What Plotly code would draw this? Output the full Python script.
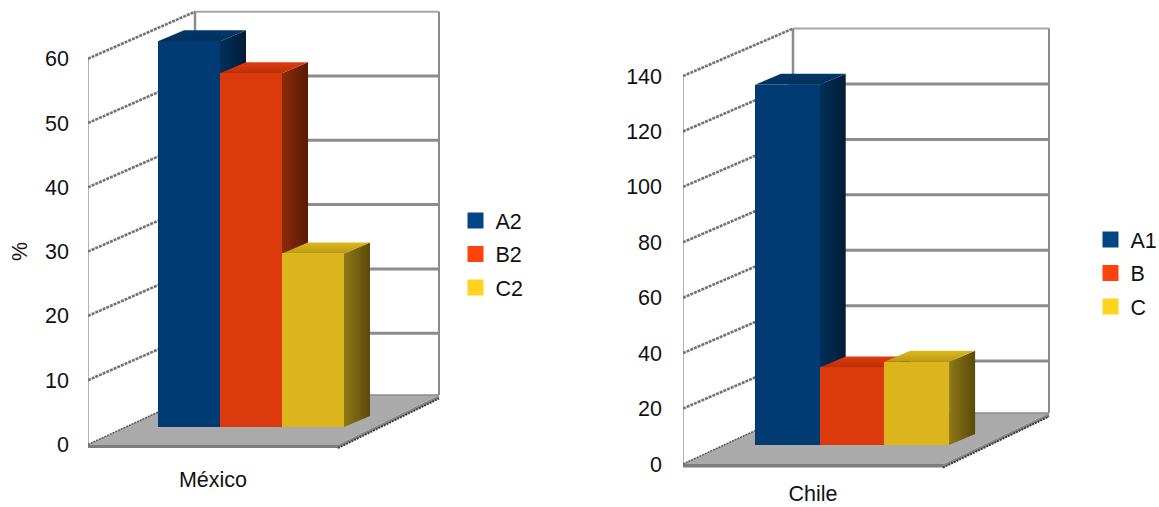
import plotly.graph_objects as go

# Series values per panel
mexico_category = "México"
mexico_series = ["A2", "B2", "C2"]
mexico_values = [60, 55, 27]
mexico_ticks = [0, 10, 20, 30, 40, 50, 60]

chile_category = "Chile"
chile_series = ["A1", "B", "C"]
chile_values = [130, 28, 30]
chile_ticks = [0, 20, 40, 60, 80, 100, 120, 140]

# Colours: key swatch, front face, side gradient, top gradient
key_colors = ["#004586", "#ff420e", "#ffd320"]
front_colors = ["#003c73", "#dc3a0c", "#dcb41c"]
side_colors = [("#02305a", "#011c36"), ("#8a2c0a", "#5a1a04"), ("#8f7818", "#5a4a0a")]
top_colors = [("#00386b", "#00305c"), ("#e23c0c", "#b83008"), ("#e0b81c", "#b89a14")]

W, H = 1159, 507
FONT = "Liberation Sans"
TEXT = "#111111"
GRID = "#8c8c8c"
FONT_SIZE = 21.5


def add_panel(fig, n, cat, names, values, ticks, px, legend_pos, title=None):
    """Draws one oblique bar panel on a base axis pair and an overlay pair."""
    x0, x1, unit_x = px["left"], px["right"], px["front_w"]
    y_zero, unit_y = px["zero"], px["unit"]
    top_px, bot_px = px["top"], px["bottom"]
    depth_x, depth_y = px["depth_x"] / unit_x, px["depth_y"] / unit_y
    back_right = depth_x + px["back_w"] / unit_x
    floor_y = px["floor_dy"] / unit_y

    xr = [0, (x1 - x0) / unit_x]
    yr = [(y_zero - bot_px) / unit_y, (y_zero - top_px) / unit_y]
    dom_x = [x0 / W, x1 / W]
    dom_y = [1 - bot_px / H, 1 - top_px / H]
    base_x, base_y = f"x{n}", f"y{n}"
    over_x, over_y = f"x{n + 1}", f"y{n + 1}"

    def poly(xs, ys, **kw):
        fig.add_trace(go.Scatter(x=xs, y=ys, xaxis=base_x, yaxis=base_y, hoverinfo="skip",
                                 showlegend=False, **kw))

    def line(xs, ys, color=GRID, width=1.5, dash="solid"):
        poly(xs, ys, mode="lines", line=dict(color=color, width=width, dash=dash))

    top, bottom = ticks[-1], ticks[0]

    # Back wall gridlines and frame
    for t in ticks[1:-1]:
        line([depth_x, back_right], [t + depth_y, t + depth_y], width=3)
    line([depth_x, back_right], [top + depth_y, top + depth_y], color="#a6a6a6", width=2)
    line([depth_x, depth_x], [floor_y, top + depth_y], width=2.5)
    line([back_right, back_right], [floor_y, top + depth_y], color="#8c8c8c", width=2)

    # Side wall: front edge and receding tick lines
    line([0, 0], [bottom, top], color="#9a9a9a", width=1.5)
    for t in ticks[1:]:
        line([0, depth_x], [t, t + depth_y], color="#737373", width=2.6, dash="3px,1px")

    # Floor with a thin slab along its front and right edges
    slab = 3.5 / unit_y
    poly([1, back_right, back_right, 1, 1], [0, floor_y, floor_y - slab, -slab, 0], mode="lines",
         fill="toself", fillcolor="#8a8a8a", line=dict(width=0))
    poly([0, 1, back_right, depth_x, 0], [0, 0, floor_y, floor_y, 0], mode="lines",
         fill="toself", fillcolor="#aaaaaa", line=dict(width=0))
    poly([0, 1, 1, 0, 0], [0, 0, -slab, -slab, 0], mode="lines", fill="toself",
         fillcolor="#7d7d7d", line=dict(width=0))
    line([depth_x, back_right], [floor_y, floor_y], color="#8c8c8c", width=1.5)
    line([0, depth_x], [0, floor_y], color="#555555", width=1.5, dash="2px,1px")
    line([1, back_right], [-slab, floor_y - slab], color="#3c3c3c", width=2, dash="2px,1px")

    # Bars sit part-way into the floor depth
    bar_w = px["bar_w"] / unit_x
    bar_start = (px["bar_left"] - x0) / unit_x
    bar_base = (y_zero - px["bar_base"]) / unit_y
    bdx, bdy = px["bar_dx"] / unit_x, px["bar_dy"] / unit_y

    for i, v in enumerate(values):
        xl, xh = bar_start + i * bar_w, bar_start + (i + 1) * bar_w
        yt = bar_base + v
        poly([xh, xh + bdx, xh + bdx, xh, xh], [bar_base, bar_base + bdy, yt + bdy, yt, bar_base],
             mode="lines", line=dict(width=0), fill="toself",
             fillgradient=dict(type="horizontal",
                               colorscale=[[0, side_colors[i][0]], [1, side_colors[i][1]]]))
        poly([xl, xh, xh + bdx, xl + bdx, xl], [yt, yt, yt + bdy, yt + bdy, yt],
             mode="lines", line=dict(width=0), fill="toself",
             fillgradient=dict(type="vertical",
                               colorscale=[[0, top_colors[i][1]], [1, top_colors[i][0]]]))

    # Front faces go on the overlay axes so they cover the side faces of neighbours
    for i, v in enumerate(values):
        fig.add_trace(go.Bar(x=[bar_start + (i + 0.5) * bar_w], y=[v], base=[bar_base], width=[bar_w],
                             xaxis=over_x, yaxis=over_y, name=names[i], showlegend=False,
                             marker=dict(color=front_colors[i], line=dict(width=0))))

    # Key entries
    legend_id = "legend" if n == 1 else "legend2"
    for i, name in enumerate(names):
        fig.add_trace(go.Scatter(x=[None], y=[None], xaxis=base_x, yaxis=base_y, mode="markers",
                                 name=name, legend=legend_id, legendgroup=f"{n}{name}",
                                 marker=dict(symbol="square", size=16, color=key_colors[i],
                                             line=dict(width=0))))

    suffix = "" if n == 1 else str(n)
    over_suffix = str(n + 1)
    fig.update_layout({
        f"xaxis{suffix}": dict(domain=dom_x, range=xr, anchor=base_y, tickmode="array", tickvals=[0.5],
                               ticktext=[cat], showgrid=False, zeroline=False, showline=False,
                               ticks="", ticklabelstandoff=px["cat_gap"],
                               tickfont=dict(family=FONT, size=FONT_SIZE, color=TEXT)),
        f"yaxis{suffix}": dict(domain=dom_y, range=yr, anchor=base_x, tickmode="array", tickvals=ticks,
                               showgrid=False, zeroline=False, showline=False, ticks="",
                               ticklabelstandoff=px["tick_gap"],
                               tickfont=dict(family=FONT, size=FONT_SIZE, color=TEXT)),
        f"xaxis{over_suffix}": dict(domain=dom_x, range=xr, overlaying=base_x, anchor=over_y, visible=False),
        f"yaxis{over_suffix}": dict(domain=dom_y, range=yr, overlaying=base_y, anchor=over_x, visible=False),
        legend_id: dict(x=legend_pos[0] / W, y=1 - legend_pos[1] / H, xanchor="left", yanchor="top",
                        font=dict(family=FONT, size=FONT_SIZE, color=TEXT), tracegroupgap=2.5,
                        itemsizing="trace", indentation=-10, bgcolor="rgba(0,0,0,0)"),
    })


fig = go.Figure()

add_panel(fig, 1, mexico_category, mexico_series, mexico_values, mexico_ticks,
          dict(left=88, right=460, front_w=250, zero=444.5, unit=6.43, top=5, bottom=452,
               depth_x=107, depth_y=47, back_w=244, floor_dy=49.5,
               bar_left=158, bar_w=62, bar_base=427, bar_dx=26, bar_dy=11,
               cat_gap=12, tick_gap=18),
          (465.5, 200))

add_panel(fig, 3, chile_category, chile_series, chile_values, chile_ticks,
          dict(left=683, right=1060, front_w=260, zero=464, unit=2.771, top=5, bottom=470,
               depth_x=110, depth_y=47.5, back_w=256, floor_dy=51,
               bar_left=755, bar_w=64.7, bar_base=445, bar_dx=26, bar_dy=11,
               cat_gap=8, tick_gap=20),
          (1100.5, 219))

fig.add_annotation(text="%", xref="paper", yref="paper", x=20 / W, y=1 - 252 / H, showarrow=False,
                   textangle=-90, xanchor="center", yanchor="middle",
                   font=dict(family=FONT, size=FONT_SIZE, color=TEXT))

fig.update_layout(width=W, height=H, margin=dict(l=0, r=0, t=0, b=0, autoexpand=False), autosize=False,
                  plot_bgcolor="white", paper_bgcolor="white", barmode="overlay", bargap=0)

fig.write_html("out.html")
